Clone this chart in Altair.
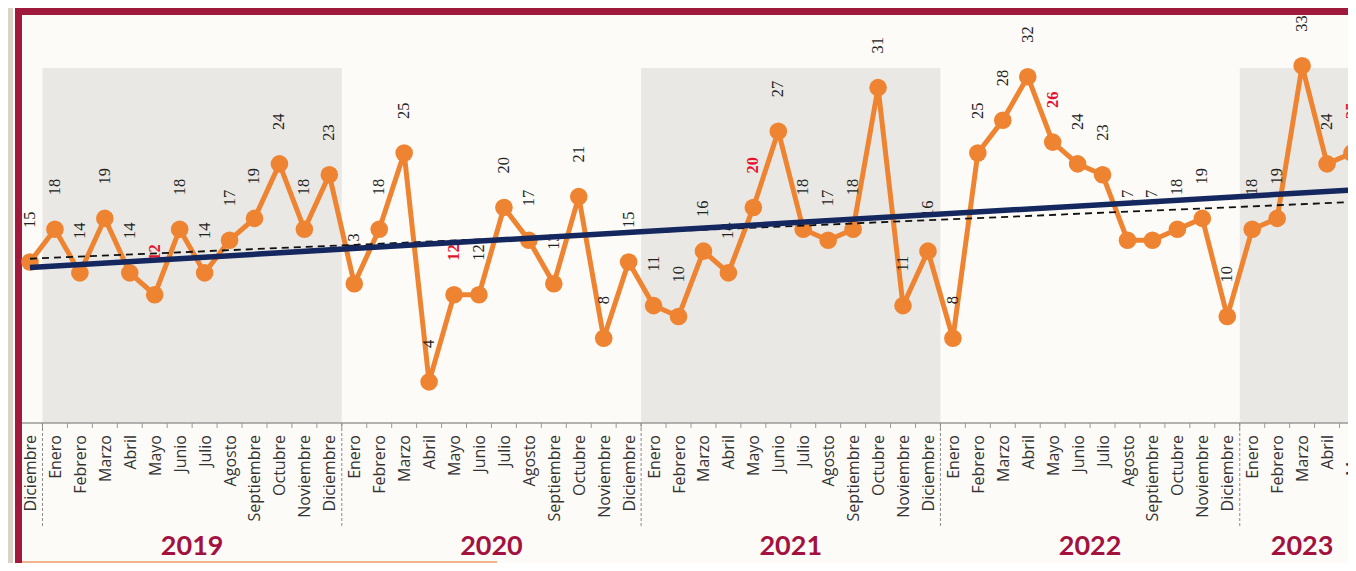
import altair as alt
import pandas as pd

# ---------------- data ----------------
month_names = ["Enero", "Febrero", "Marzo", "Abril", "Mayo", "Junio", "Julio",
               "Agosto", "Septiembre", "Octubre", "Noviembre", "Diciembre"]
months = ["Diciembre"] + month_names * 4 + ["Enero", "Febrero", "Marzo", "Abril", "Mayo"]

values = [15,
          18, 14, 19, 14, 12, 18, 14, 17, 19, 24, 18, 23,
          13, 18, 25, 4, 12, 12, 20, 17, 13, 21, 8, 15,
          11, 10, 16, 14, 20, 27, 18, 17, 18, 31, 11, 16,
          8, 25, 28, 32, 26, 24, 23, 17, 17, 18, 19, 10,
          18, 19, 33, 24, 25]

years = ["2019", "2020", "2021", "2022", "2023"]
year_label_pos = [6.5, 18.5, 30.5, 42.5, 51]
year_bounds = [0.5, 12.5, 24.5, 36.5, 48.5]
shade_start = [0.5, 24.5, 48.5]
shade_end = [12.5, 36.5, 54.5]

trend_idx = [0, 53]
trend_solid = [14.5, 21.6]
trend_dashed = [15.3, 20.5]

# ---------------- tables ----------------
df = pd.DataFrame({"idx": list(range(len(months))), "mes": months, "valor": values})
df_years = pd.DataFrame({"anio": years, "pos": year_label_pos})
df_bounds = pd.DataFrame({"b": year_bounds})
df_shade = pd.DataFrame({"s": shade_start, "e": shade_end})
df_ticks = pd.DataFrame({"t": [i + 0.5 for i in range(len(months) - 1)]})
df_trend = pd.DataFrame({"idx": trend_idx, "solid": trend_solid, "dashed": trend_dashed})
one = pd.DataFrame({"a": [0]})

ORANGE = "#EE8431"
NAVY = "#14275E"
MAROON = "#9F1A3D"
YEARCOL = "#A3123F"

X = alt.Scale(domain=[0, 53], range=[22, 1344], nice=False, zero=False)
Y = alt.Scale(domain=[0, 35], range=[417.5, 36], nice=False, zero=False)

# ---------------- frame ----------------
white_edge = alt.Chart(one).mark_rect(color="#FFFFFF").encode(
    x=alt.value(5), x2=alt.value(1340), y=alt.value(0), y2=alt.value(555))
maroon = alt.Chart(one).mark_rect(color=MAROON).encode(
    x=alt.value(7), x2=alt.value(1340), y=alt.value(0), y2=alt.value(555))
interior = alt.Chart(one).mark_rect(color="#FDFBF8").encode(
    x=alt.value(14), x2=alt.value(1340), y=alt.value(7), y2=alt.value(555))

bands = alt.Chart(df_shade).mark_rect(color="#E9E8E5").encode(
    x=alt.X("s:Q", scale=X, axis=None), x2="e:Q",
    y=alt.value(60), y2=alt.value(415))

axis_line = alt.Chart(one).mark_rule(color="#9A9A9A", strokeWidth=1.5).encode(
    x=alt.value(14), x2=alt.value(1340), y=alt.value(415))
ticks = alt.Chart(df_ticks).mark_rule(color="#9A9A9A", strokeWidth=1).encode(
    x=alt.X("t:Q", scale=X, axis=None), y=alt.value(415), y2=alt.value(420))
seps = alt.Chart(df_bounds).mark_rule(color="#8A8A8A", strokeWidth=1, strokeDash=[3, 2]).encode(
    x=alt.X("b:Q", scale=X, axis=None), y=alt.value(415), y2=alt.value(520))

month_labels = alt.Chart(df).mark_text(
    angle=270, align="right", baseline="middle", font="Open Sans",
    fontSize=16, color="#333333", dy=1).encode(
    x=alt.X("idx:Q", scale=X, axis=None), y=alt.value(427), text="mes:N")

year_labels = alt.Chart(df_years).mark_text(
    font="Lato", fontSize=27, fontWeight="bold", color=YEARCOL,
    align="center", baseline="alphabetic").encode(
    x=alt.X("pos:Q", scale=X, axis=None), y=alt.value(547), text="anio:N")

# ---------------- series ----------------
line = alt.Chart(df).mark_line(color=ORANGE, strokeWidth=5).encode(
    x=alt.X("idx:Q", scale=X, axis=None),
    y=alt.Y("valor:Q", scale=Y, axis=None))
points = alt.Chart(df).mark_circle(color=ORANGE, size=310, opacity=1).encode(
    x=alt.X("idx:Q", scale=X, axis=None),
    y=alt.Y("valor:Q", scale=Y, axis=None))

labels_black = alt.Chart(df).transform_filter(alt.datum.mes != "Mayo").mark_text(
    angle=270, align="left", baseline="middle", dx=34,
    font="Liberation Serif", fontSize=16.5, color="#222222").encode(
    x=alt.X("idx:Q", scale=X, axis=None),
    y=alt.Y("valor:Q", scale=Y, axis=None), text="valor:Q")
labels_red = alt.Chart(df).transform_filter(alt.datum.mes == "Mayo").mark_text(
    angle=270, align="left", baseline="middle", dx=34,
    font="Liberation Serif", fontSize=16.5, fontWeight="bold", color="#E8112D").encode(
    x=alt.X("idx:Q", scale=X, axis=None),
    y=alt.Y("valor:Q", scale=Y, axis=None), text="valor:Q")

dashed = alt.Chart(df_trend).mark_line(color="#111111", strokeWidth=1.8, strokeDash=[7, 5]).encode(
    x=alt.X("idx:Q", scale=X, axis=None),
    y=alt.Y("dashed:Q", scale=Y, axis=None))
solid = alt.Chart(df_trend).mark_line(color=NAVY, strokeWidth=5.5).encode(
    x=alt.X("idx:Q", scale=X, axis=None),
    y=alt.Y("solid:Q", scale=Y, axis=None))

bottom_stripe = alt.Chart(one).mark_rule(color="#F2B48C", strokeWidth=2).encode(
    x=alt.value(14), x2=alt.value(489), y=alt.value(554))

chart = alt.layer(
    white_edge, maroon, interior, bands, axis_line, ticks, seps,
    month_labels, year_labels, line, points, labels_black, labels_red,
    dashed, solid, bottom_stripe
).properties(
    width=1340, height=555,
    autosize=alt.AutoSizeParams(type="none"),
    padding=0,
    background="#DBD3C6"
).configure_view(strokeWidth=0)

chart.save("out.html", embed_options={"renderer": "svg", "actions": False})
